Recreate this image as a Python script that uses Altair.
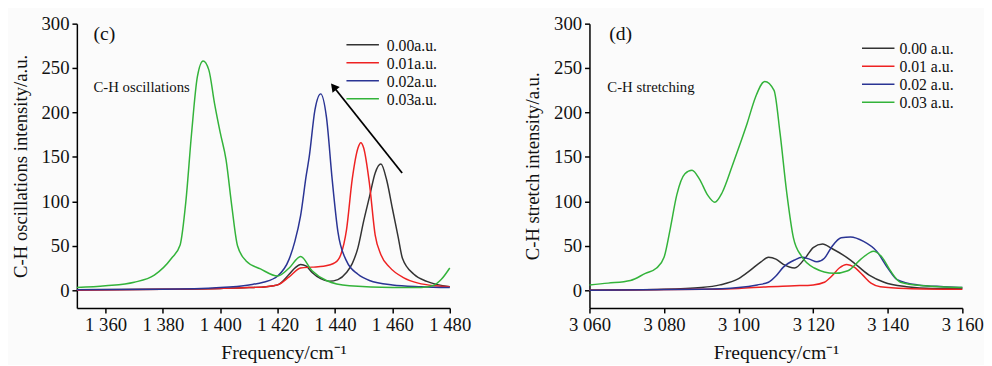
import altair as alt
import pandas as pd

# ---------------- data: panel (c) C-H oscillations ----------------
c_labels = ["0.00a.u.", "0.01a.u.", "0.02a.u.", "0.03a.u."]

c_black_x = [1350, 1380, 1400, 1410, 1416, 1420, 1424, 1426, 1428, 1430, 1432, 1435, 1438, 1441, 1444, 1446, 1448, 1450, 1452, 1454, 1456, 1458, 1460, 1462, 1463.5, 1467.5, 1472, 1480]
c_black_y = [0.5, 1, 2, 3, 4, 6, 18, 25, 29, 27, 20, 13, 10, 12, 20, 30, 48, 78, 105, 132, 142, 124, 92, 60, 36, 18, 10, 4]

c_red_x = [1350, 1380, 1400, 1410, 1416, 1420, 1424, 1428, 1432, 1436, 1440, 1442, 1444, 1446, 1448, 1449, 1450, 1452, 1454, 1456, 1459, 1464, 1469, 1475, 1480]
c_red_y = [0, 1, 2, 3, 4, 6, 15, 25, 26, 27, 31, 40, 68, 125, 160, 166, 160, 120, 62, 40, 26, 14, 8, 5, 4]

c_blue_x = [1350, 1380, 1400, 1410, 1415, 1420, 1424, 1426, 1428, 1430, 1431, 1433, 1435, 1437, 1439, 1441, 1444, 1448, 1452, 1460, 1470, 1480]
c_blue_y = [0.5, 1, 3, 6, 9, 16, 35, 55, 84, 130, 150, 203, 221, 195, 125, 66, 33, 18, 11, 6, 4, 3]

c_green_x = [1350, 1360, 1370, 1377, 1383, 1386, 1388, 1390, 1392, 1394, 1396, 1398, 1400, 1402, 1404, 1406, 1409, 1414, 1420, 1424, 1428, 1432, 1437, 1445, 1460, 1470, 1474, 1477, 1480]
c_green_y = [3, 5, 9, 17, 36, 51, 100, 177, 240, 258, 248, 210, 177, 147, 95, 50, 33, 24, 16, 25, 38, 22, 11, 5, 3, 3, 5, 12, 25]

# ---------------- data: panel (d) C-H stretching ----------------
d_labels = ["0.00 a.u.", "0.01 a.u.", "0.02 a.u.", "0.03 a.u."]

d_black_x = [3060, 3080, 3090, 3095, 3100, 3103, 3106, 3108, 3110, 3112, 3115, 3118, 3120, 3122.5, 3125, 3130, 3135, 3139, 3145, 3152, 3160]
d_black_y = [0, 1, 3, 6, 13, 22, 32, 37, 35, 29, 25, 37, 48, 52, 47, 34, 17, 9, 4, 2, 2]

d_red_x = [3060, 3090, 3100, 3108, 3115, 3120, 3123, 3125, 3127, 3129, 3131, 3133.3, 3135.5, 3138, 3145, 3160]
d_red_y = [0, 1, 2, 4, 5, 6, 9, 16, 25, 29, 26, 17, 8, 4, 2, 1]

d_blue_x = [3060, 3090, 3100, 3105, 3108, 3110, 3112, 3115, 3117, 3119, 3121, 3123, 3125, 3127.5, 3130, 3133.5, 3137, 3140, 3142.5, 3148, 3155, 3160]
d_blue_y = [0, 1, 3, 6, 9, 16, 26, 34, 37, 35, 32, 36, 49, 59, 60, 55, 44, 25, 12, 6, 4, 3]

d_green_x = [3060, 3065, 3071, 3075, 3078, 3080, 3081.7, 3083.4, 3085.6, 3087.5, 3089.5, 3091.7, 3093.6, 3095.6, 3098.3, 3100.5, 3102.3, 3104.5, 3107, 3109.5, 3111.1, 3112.9, 3114.7, 3116.9, 3120.3, 3125.6, 3129.3, 3132.8, 3136.2, 3138.5, 3140.7, 3143.4, 3149.5, 3160]
d_green_y = [6, 8, 11, 19, 25, 37, 70, 107, 131, 135, 125, 107, 99, 110, 140, 166, 188, 217, 235, 225, 177, 110, 59, 38, 25, 19, 22, 35, 44, 37, 22, 9, 5, 3]

# annotations
c_tag = "(c)"
d_tag = "(d)"
c_note = "C-H oscillations"
d_note = "C-H stretching"
arrow_x = [1463.4, 1439.5]
arrow_y = [132, 229]

colors = ["#333333", "#ee2222", "#2a3494", "#33b33a"]
FONT = "Liberation Serif"


def frame(labels, xs, ys):
    rows = []
    for lab, xv, yv in zip(labels, xs, ys):
        for a, b in zip(xv, yv):
            rows.append({"f": a, "v": b, "s": lab})
    return pd.DataFrame(rows)


xfmt = "replace(format(datum.value, ','), ',', ' ')"


def legend_layers(labels, lx, tx, ly, step):
    out = []
    for i, (lab, col) in enumerate(zip(labels, colors)):
        yy = ly + i * step
        out.append(alt.Chart(pd.DataFrame({"t": [lab]})).mark_rule(color=col, strokeWidth=1.5).encode(
            x=alt.value(lx), x2=alt.value(lx + 33), y=alt.value(yy)))
        out.append(alt.Chart(pd.DataFrame({"t": [lab]})).mark_text(
            font=FONT, fontSize=16, align="left", baseline="middle", color="#111").encode(
            x=alt.value(tx), y=alt.value(yy + 1), text="t:N"))
    return out


def panel(df, labels, xdom, xticks, ytitle, tag, tagx, note, notex, legx, legtx, legy,
          xtitle_x, extra=None):
    xs = alt.X("f:Q", scale=alt.Scale(domain=xdom, nice=False, zero=False),
               axis=alt.Axis(values=xticks, labelExpr=xfmt, title="Frequency/cm⁻¹",
                             grid=False, labelOverlap=False, labelFlush=False,
                             titleX=xtitle_x))
    ys = alt.Y("v:Q", scale=alt.Scale(domain=[-20, 300], nice=False),
               axis=alt.Axis(values=[0, 50, 100, 150, 200, 250, 300], title=ytitle, grid=False,
                             labelOverlap=False))
    lines = alt.Chart(df).mark_line(strokeWidth=1.5, interpolate="monotone").encode(
        x=xs, y=ys,
        color=alt.Color("s:N", scale=alt.Scale(domain=labels, range=colors), legend=None),
        order=alt.Order("s:N", sort="descending"),
    )
    tdf = pd.DataFrame({"f": [tagx], "v": [288], "t": [tag]})
    tagm = alt.Chart(tdf).mark_text(font=FONT, fontSize=20, align="left", baseline="middle",
                                    color="#111").encode(x="f:Q", y="v:Q", text="t:N")
    ndf = pd.DataFrame({"f": [notex], "v": [229], "t": [note]})
    notem = alt.Chart(ndf).mark_text(font=FONT, fontSize=15, align="left", baseline="middle",
                                     color="#111").encode(x="f:Q", y="v:Q", text="t:N")
    layers = [lines, tagm, notem]
    if extra is not None:
        layers += extra
    layers += legend_layers(labels, legx, legtx, legy, 18.3)
    return alt.layer(*layers).properties(width=379, height=289)


dfc = frame(c_labels, [c_black_x, c_red_x, c_blue_x, c_green_x], [c_black_y, c_red_y, c_blue_y, c_green_y])
dfd = frame(d_labels, [d_black_x, d_red_x, d_blue_x, d_green_x], [d_black_y, d_red_y, d_blue_y, d_green_y])

adf = pd.DataFrame({"f": [arrow_x[0]], "v": [arrow_y[0]], "f2": [arrow_x[1]], "v2": [arrow_y[1]]})
arrow_line = alt.Chart(adf).mark_rule(color="black", strokeWidth=1.8).encode(
    x="f:Q", y="v:Q", x2="f2:Q", y2="v2:Q")
hdf = pd.DataFrame({"f": [arrow_x[1]], "v": [arrow_y[1]]})
arrow_head = alt.Chart(hdf).mark_point(shape="triangle-up", filled=True, color="black",
                                      size=90, angle=321, opacity=1).encode(x="f:Q", y="v:Q")

left = panel(dfc, c_labels, [1350, 1480], [1360, 1380, 1400, 1420, 1440, 1460, 1480],
             "C-H oscillations intensity/a.u.", c_tag, 1355.8, c_note, 1355.8, 274, 315, 21.5,
             210, extra=[arrow_line, arrow_head])
right = panel(dfd, d_labels, [3060, 3160], [3060, 3080, 3100, 3120, 3140, 3160],
              "C-H stretch intensity/a.u.", d_tag, 3065.3, d_note, 3064.8, 277, 315, 25, 189.5)

chart = alt.hconcat(left, right, spacing=53).resolve_scale(color="independent").properties(
    background="#fbfbfb", padding={"left": 3, "top": 4, "right": 0, "bottom": 0}
).configure_view(stroke=None).configure_axis(
    labelFont=FONT, titleFont=FONT, labelFontSize=19, titleFontSize=19,
    labelColor="#111", titleColor="#111", titleFontWeight="normal",
    domainColor="black", tickColor="black", domainWidth=1.5, tickWidth=1.5, tickSize=5,
    labelPadding=3,
).configure_axisX(titlePadding=8, titleFontSize=20).configure_axisY(titlePadding=11)

chart.save("out.html", embed_options={"renderer": "svg", "actions": False})
